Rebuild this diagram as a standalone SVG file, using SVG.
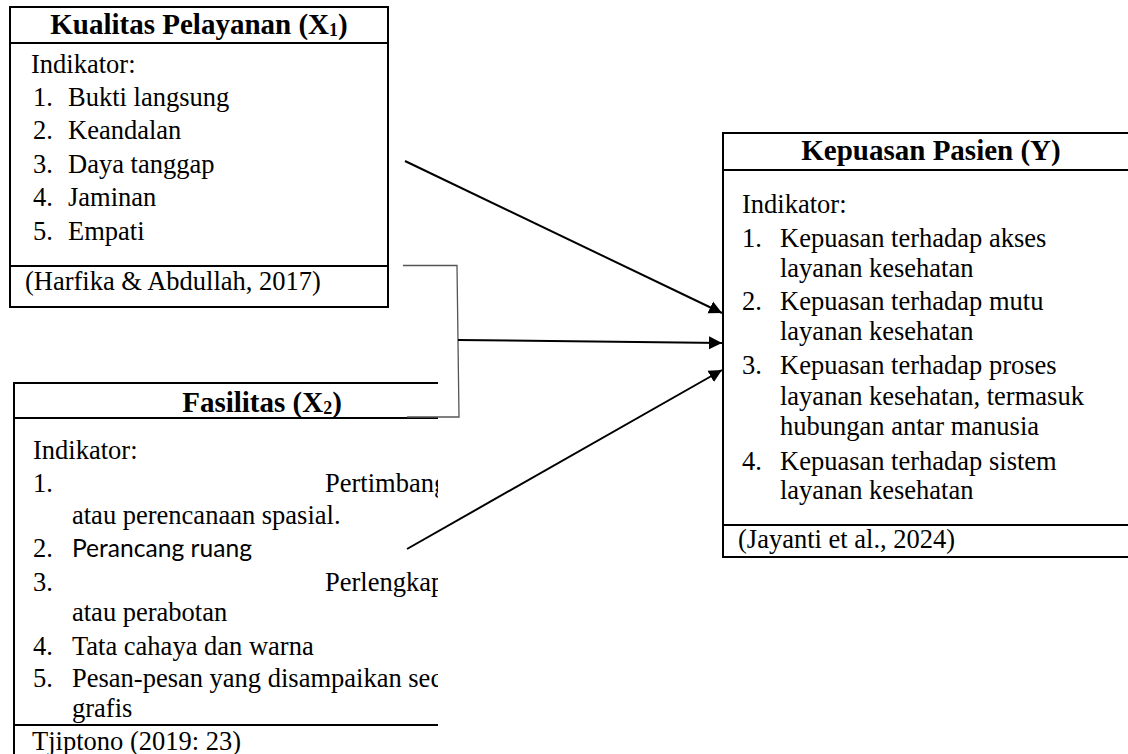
<svg xmlns="http://www.w3.org/2000/svg" width="1128" height="754" viewBox="0 0 1128 754">
<style>
.t{font-family:"Liberation Serif","Times New Roman",serif;font-size:26.5px;fill:#000}
.b{font-family:"Liberation Serif","Times New Roman",serif;font-size:29px;font-weight:bold;fill:#000;text-anchor:middle}
.s{font-family:Lato,"Open Sans",sans-serif;font-size:25px;fill:#000}
.sub{font-size:18px}
.ln{stroke:#000;stroke-width:2;fill:none}
.arr{stroke:#000;stroke-width:2;fill:none;marker-end:url(#ah)}
.br{stroke:#555;stroke-width:1.3;fill:none}
</style>
<defs>
<marker id="ah" markerUnits="userSpaceOnUse" markerWidth="14" markerHeight="14" refX="13" refY="7" orient="auto">
<path d="M0,0.5 L13,7 L0,13.5 z" fill="#000"/>
</marker>
<clipPath id="clipF"><rect x="0" y="370" width="438" height="384"/></clipPath>
</defs>
<rect width="1128" height="754" fill="#fff"/>

<g id="node-x1">
<rect class="ln" x="10" y="7" width="378" height="300"/>
<line class="ln" x1="10" y1="43" x2="388" y2="43"/>
<line class="ln" x1="10" y1="266" x2="388" y2="266"/>
<text class="b" x="199" y="34">Kualitas Pelayanan (X<tspan class="sub" dy="2">1</tspan><tspan dy="-2">)</tspan></text>
<text class="t" x="31" y="73">Indikator:</text>
<text class="t" x="33" y="106">1.</text>
<text class="t" x="68" y="106">Bukti langsung</text>
<text class="t" x="33" y="139">2.</text>
<text class="t" x="68" y="139">Keandalan</text>
<text class="t" x="33" y="173">3.</text>
<text class="t" x="68" y="173">Daya tanggap</text>
<text class="t" x="33" y="206">4.</text>
<text class="t" x="68" y="206">Jaminan</text>
<text class="t" x="33" y="240">5.</text>
<text class="t" x="68" y="240">Empati</text>
<text class="t" x="25" y="290">(Harfika &amp; Abdullah, 2017)</text>
</g>

<g id="node-x2">
<line class="ln" x1="14" y1="383" x2="438" y2="383"/>
<line class="ln" x1="14" y1="382" x2="14" y2="754"/>
<line class="ln" x1="14" y1="418" x2="438" y2="418"/>
<line class="ln" x1="14" y1="725" x2="438" y2="725"/>
<g clip-path="url(#clipF)">
<text class="b" x="262" y="412">Fasilitas (X<tspan class="sub" dy="2">2</tspan><tspan dy="-2">)</tspan></text>
<text class="t" x="33" y="459">Indikator:</text>
<text class="t" x="33" y="492">1.</text>
<text class="t" x="325" y="492">Pertimbang</text>
<text class="t" x="72" y="524">atau perencanaan spasial.</text>
<text class="t" x="33" y="557">2.</text>
<text class="s" x="72" y="557" textLength="180" lengthAdjust="spacingAndGlyphs">Perancang ruang</text>
<text class="t" x="33" y="591">3.</text>
<text class="t" x="325" y="591">Perlengkap</text>
<text class="t" x="72" y="621">atau perabotan</text>
<text class="t" x="33" y="655">4.</text>
<text class="t" x="72" y="655">Tata cahaya dan warna</text>
<text class="t" x="33" y="687">5.</text>
<text class="t" x="72" y="687">Pesan-pesan yang disampaikan sec</text>
<text class="t" x="72" y="717">grafis</text>
<text class="t" x="32" y="750">Tjiptono (2019: 23)</text>
</g>
</g>

<g id="node-y">
<line class="ln" x1="722" y1="133" x2="1128" y2="133"/>
<line class="ln" x1="723" y1="132" x2="723" y2="558"/>
<line class="ln" x1="723" y1="170" x2="1128" y2="170"/>
<line class="ln" x1="723" y1="525" x2="1128" y2="525"/>
<line class="ln" x1="722" y1="557" x2="1128" y2="557"/>
<text class="b" x="931" y="160">Kepuasan Pasien (Y)</text>
<text class="t" x="742" y="213">Indikator:</text>
<text class="t" x="742" y="247">1.</text>
<text class="t" x="780" y="247">Kepuasan terhadap akses</text>
<text class="t" x="780" y="277">layanan kesehatan</text>
<text class="t" x="742" y="310">2.</text>
<text class="t" x="780" y="310">Kepuasan terhadap mutu</text>
<text class="t" x="780" y="340">layanan kesehatan</text>
<text class="t" x="742" y="374">3.</text>
<text class="t" x="780" y="374">Kepuasan terhadap proses</text>
<text class="t" x="780" y="405">layanan kesehatan, termasuk</text>
<text class="t" x="780" y="435">hubungan antar manusia</text>
<text class="t" x="742" y="470">4.</text>
<text class="t" x="780" y="470">Kepuasan terhadap sistem</text>
<text class="t" x="780" y="499">layanan kesehatan</text>
<text class="t" x="738" y="548">(Jayanti et al., 2024)</text>
</g>

<g id="connectors">
<polyline class="br" points="403,265.5 457,265.5 459,417 407,417"/>
<line class="arr" x1="405" y1="161" x2="722" y2="313"/>
<line class="arr" x1="458" y1="340" x2="722" y2="343"/>
<line class="arr" x1="407" y1="549" x2="722" y2="370"/>
</g>
</svg>
